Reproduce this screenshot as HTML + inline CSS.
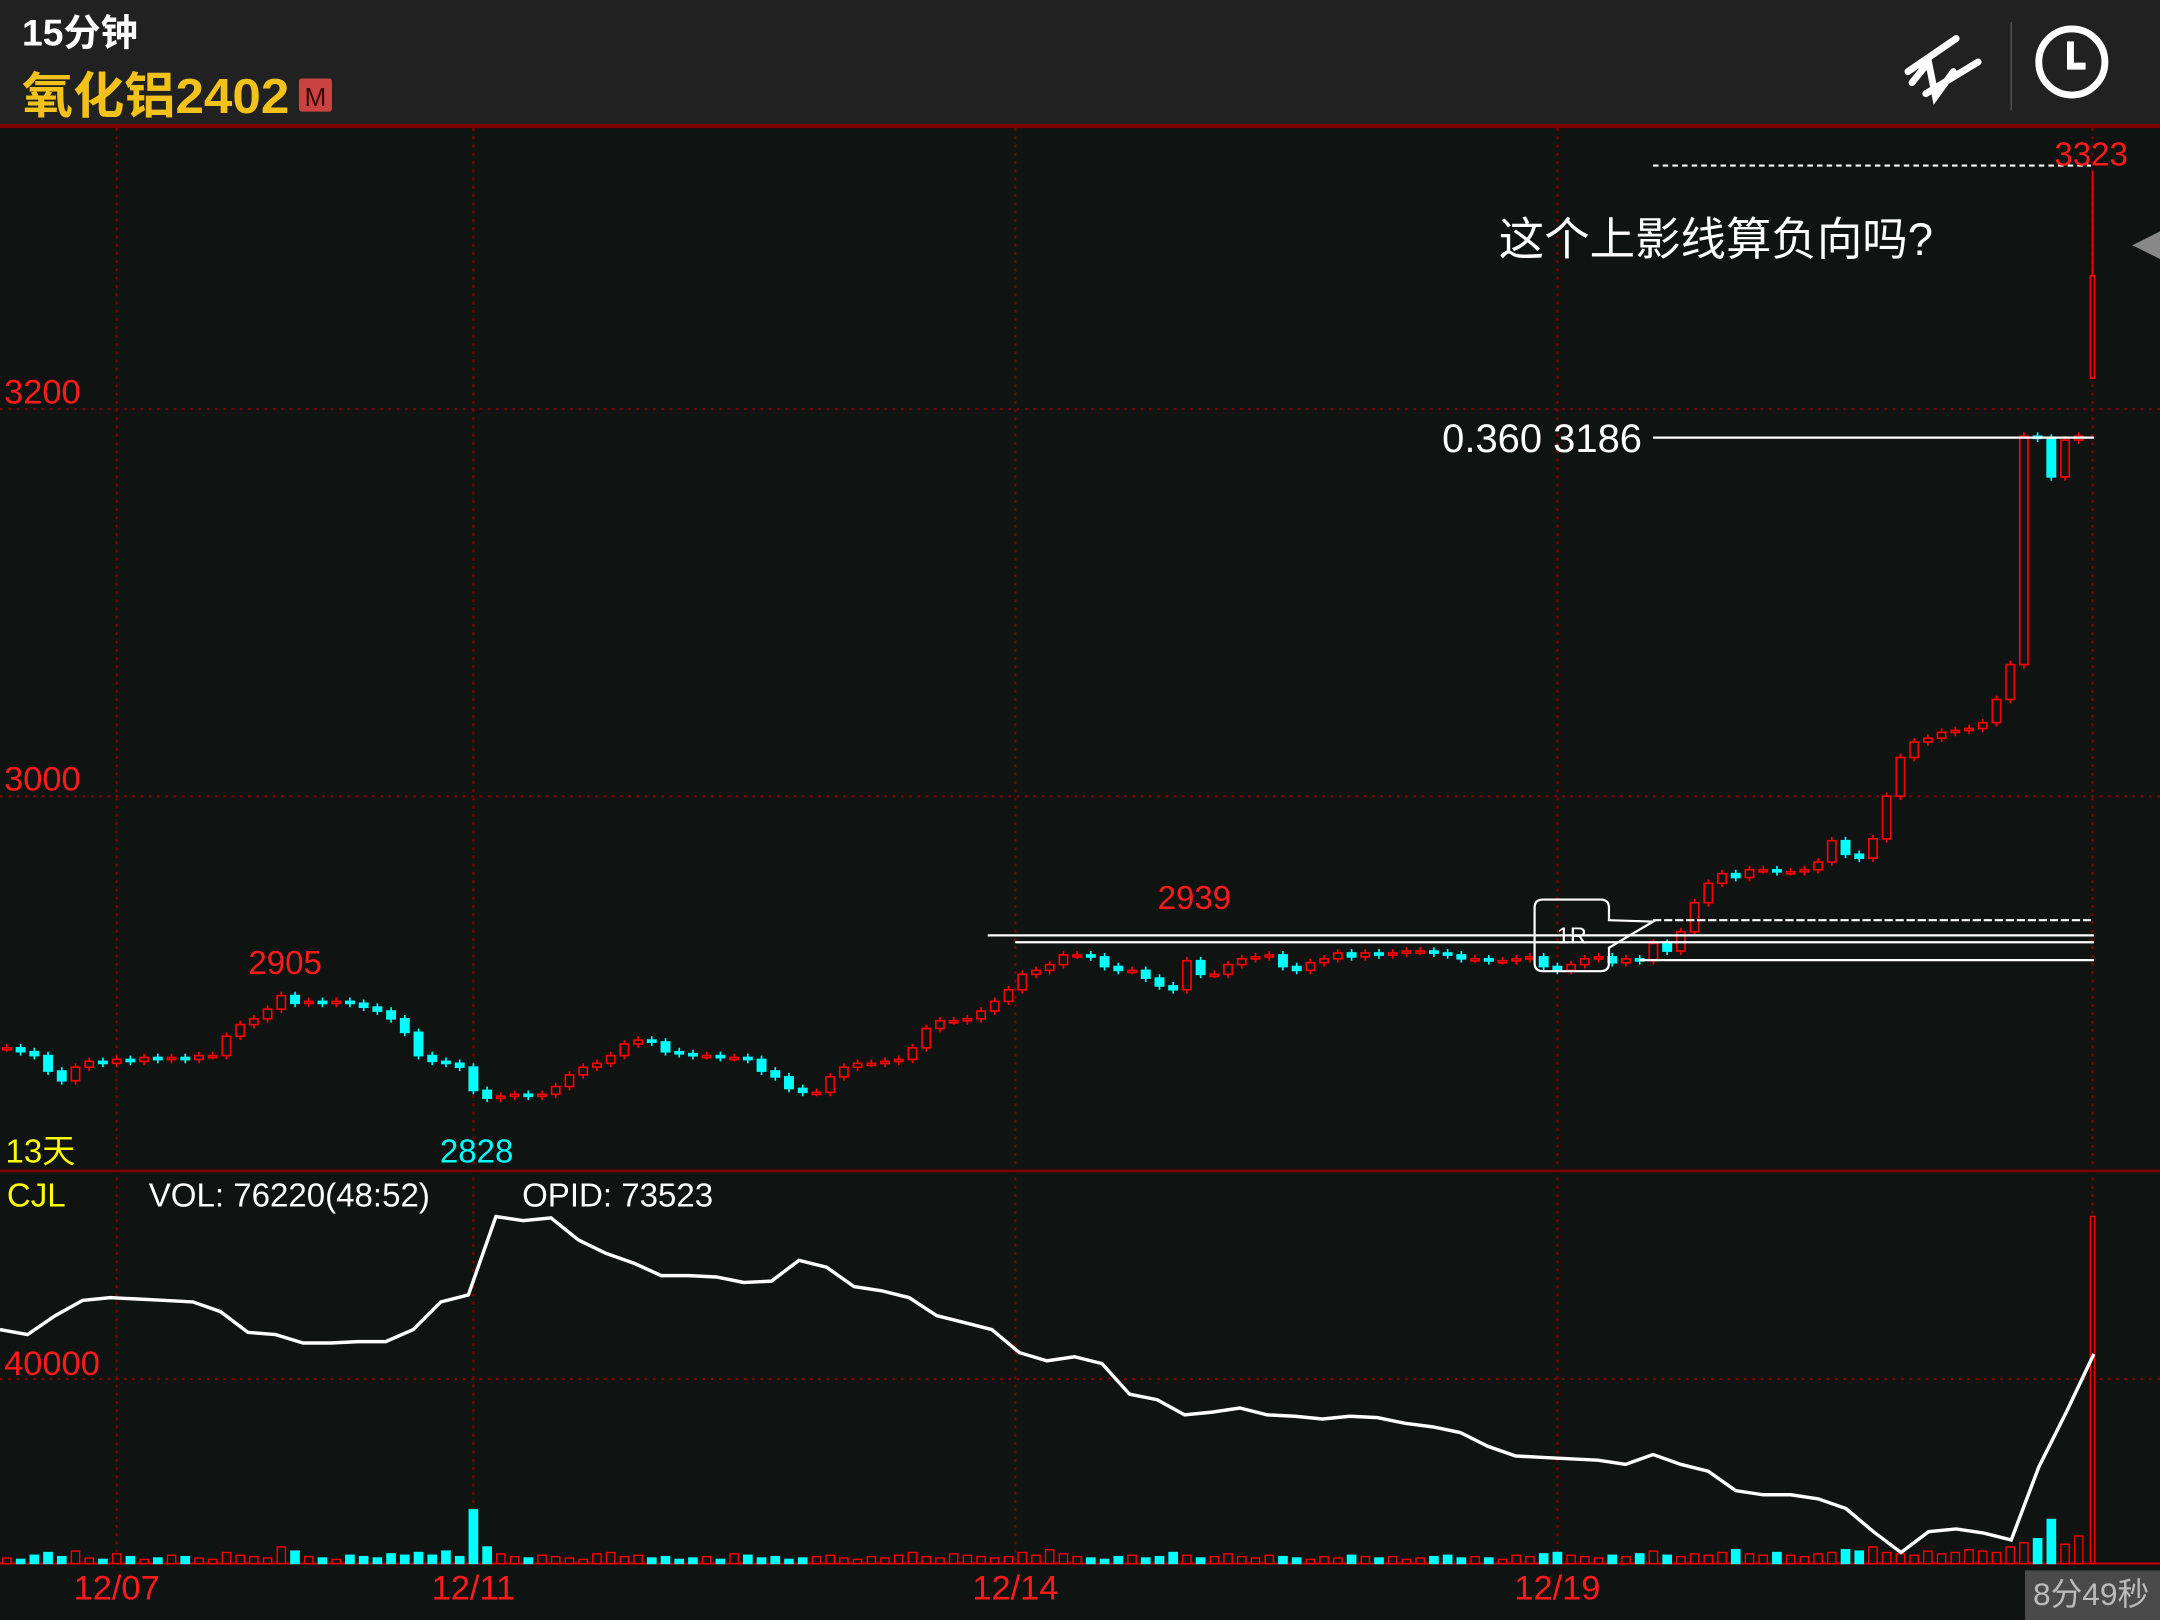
<!DOCTYPE html>
<html><head><meta charset="utf-8"><style>
html,body{margin:0;padding:0;background:#0f1311;}
svg{display:block;}
text{font-family:"Liberation Sans","Noto Sans CJK SC",sans-serif;}
</style></head><body>
<svg id="chart" width="2160" height="1620" viewBox="0 0 1568 1176" xmlns="http://www.w3.org/2000/svg">
<rect x="0" y="0" width="1568" height="1176" fill="#0f1311"/>
<rect x="0" y="0" width="1568" height="90" fill="#212121"/>
<rect x="0" y="90" width="1568" height="3" fill="#7a0000"/>
<text x="16" y="33" fill="#fff" font-size="27" font-weight="bold">15分钟</text>
<text x="16" y="82" fill="#f2c21b" font-size="36" font-weight="bold" textLength="194" lengthAdjust="spacingAndGlyphs">氧化铝2402</text>
<rect x="217" y="57" width="24" height="24" rx="2" fill="#c94343"/>
<text x="229" y="77" fill="#3a0a0a" font-size="19" text-anchor="middle">M</text>
<g stroke="#fff" stroke-width="5" fill="none" stroke-linecap="round">
<path d="M1385 52 L1420 28 M1388 60 L1400 45 L1405 70 L1418 52 M1398 68 L1436 45"/></g>
<line x1="1460" y1="16" x2="1460" y2="80" stroke="#555" stroke-width="1"/>
<g stroke="#fff" stroke-width="5" fill="none">
<circle cx="1504" cy="45" r="24"/><path d="M1503 30 L1503 48 L1514 48"/></g>
<g id="grid"></g>
<g id="vol"></g>
<g id="candles"></g>
<g id="anno"></g>
<g id="labels"></g>
</svg>
<script>
const NS="http://www.w3.org/2000/svg";
const closes=[2870,2868,2866,2858,2853,2860,2863,2862,2864,2863,2865,2864,2865,2864,2866,2866,2876,2882,2885,2890,2897,2893,2894,2893,2894,2893,2891,2889,2885,2878,2866,2863,2862,2860,2848,2844,2845,2846,2845,2846,2850,2856,2860,2862,2866,2872,2874,2873,2868,2867,2866,2866,2865,2865,2864,2858,2855,2849,2847,2847,2855,2860,2862,2862,2863,2864,2870,2880,2884,2884,2885,2889,2894,2900,2908,2910,2913,2918,2918,2917,2912,2910,2910,2906,2902,2900,2915,2908,2908,2913,2916,2917,2918,2912,2910,2914,2916,2919,2917,2919,2918,2919,2920,2920,2919,2918,2916,2916,2915,2915,2916,2917,2912,2910,2913,2916,2917,2914,2916,2915,2924,2920,2930,2945,2955,2960,2958,2962,2962,2961,2961,2962,2966,2977,2970,2968,2978,3000,3020,3028,3030,3033,3034,3035,3038,3050,3068,3186,3185,3165,3184,3186];
const lastBar=[3216,3323,3216,3269]; // open, high, low, close
const volumes=[4,3,6,8,5,9,4,3,7,5,3,4,6,5,4,3,8,6,5,4,12,9,5,4,3,6,5,4,7,6,8,6,9,5,39,12,7,5,4,6,5,4,3,7,8,5,6,4,5,3,4,5,3,7,6,4,5,3,4,5,6,4,3,5,4,6,8,5,4,7,6,5,4,5,8,6,10,7,5,4,3,5,6,4,5,8,6,4,5,7,5,4,6,5,4,3,5,4,6,5,4,5,3,4,5,6,4,5,4,3,6,5,7,8,6,5,4,6,5,7,9,6,5,7,6,8,10,7,6,8,6,5,7,8,10,9,12,8,7,6,9,7,8,10,9,8,12,15,18,32,14,20,252];
const opid=[50.7,49.6,53.7,57,57.6,57.3,57,56.7,54.6,50.1,49.6,47.8,47.8,48.1,48.1,50.7,56.7,58.2,75.2,74.3,74.9,70.1,67.2,65.1,62.4,62.4,62.1,60.9,61.2,65.7,64.2,60,59.1,57.6,53.7,52.2,50.7,45.7,43.9,44.8,43.3,36.7,35.5,32.2,32.8,33.7,32.2,31.9,31.3,31.9,31.6,30.4,29.6,28.4,25.4,23.3,23,22.7,22.4,21.5,23.6,21.5,20,15.8,14.9,14.9,14,11.9,6.9,2.4,6.9,7.5,6.6,5.1,20.9,32.8,45.4];
const priceTicks=[3200,3000];
const dateLabels=["12/07","12/11","12/14","12/19"];
const dateIdx=[8,34,73.5,113];

const N=closes.length+1;
const xC=i=>5+i*(1514/(N-1));
const yP=p=>578-(p-3000)*1.405;
const yV=v=>1135-v*1.0;
const yO=v=>1135-v*3.35;
const xO=i=>i*(1520/(opid.length-1));

function el(tag,attrs,parent){const e=document.createElementNS(NS,tag);for(const k in attrs)e.setAttribute(k,attrs[k]);parent.appendChild(e);return e;}
const grid=document.getElementById('grid'),vol=document.getElementById('vol'),cg=document.getElementById('candles'),anno=document.getElementById('anno'),lab=document.getElementById('labels');

priceTicks.forEach(p=>{const l=el('line',{x1:0,x2:1568,y1:yP(p),y2:yP(p),stroke:'#8a0000','stroke-width':1.5,'stroke-dasharray':'2 4'},grid);
});
const g4=el('line',{x1:0,x2:1568,y1:yO(40),y2:yO(40),stroke:'#8a0000','stroke-width':1.5,'stroke-dasharray':'2 4'},grid);

dateIdx.concat([N-1]).forEach(i=>{const x=xC(i);const l=el('line',{x1:x,x2:x,y1:93,y2:1135,stroke:'#8a0000','stroke-width':1.5,'stroke-dasharray':'2 4'},grid);
});
const sep=el('rect',{x:0,y:849,width:1568,height:2,fill:'#7a0000'},grid);

const base=el('line',{x1:0,x2:1568,y1:1135,y2:1135,stroke:'#c00',"stroke-width":1.5},grid);


const bw=6;
for(let i=0;i<N;i++){
  let o,h,l,c;
  if(i===N-1){[o,h,l,c]=lastBar;}
  else{c=closes[i];o=i>0?closes[i-1]:c;h=Math.max(o,c)+2;l=Math.min(o,c)-2;}
  const up=c>=o,x=xC(i),col=up?'#ff0000':'#00ffff';
  const w=el('line',{x1:x,x2:x,y1:yP(h),y2:yP(l),stroke:col,'stroke-width':1.2},cg);
  
  const top=yP(Math.max(o,c)),bh=Math.max(1.5,Math.abs(yP(o)-yP(c)));
  const bwi=i===N-1?3:bw;
  const b=el('rect',{x:x-bwi/2,y:top,width:bwi,height:bh,fill:up?'#0f1311':col,stroke:col,'stroke-width':1.2},cg);
  
  const v=volumes[i];
  const vwi=i===N-1?3:6;
  const vb=el('rect',{x:x-vwi/2,y:yV(v),width:vwi,height:1135-yV(v),fill:up?'#0f1311':'#00ffff',stroke:up?'#ff0000':'#00ffff','stroke-width':1},vol);
  
}
const pts=opid.map((v,i)=>xO(i).toFixed(1)+','+yO(v).toFixed(1)).join(' ');
const ol=el('polyline',{points:pts,fill:'none',stroke:'#fff','stroke-width':2.5},vol);


function ln(x1,y1,x2,y2,name,dash){const l=el('line',{x1,y1,x2,y2,stroke:'#fff','stroke-width':1.6},anno);if(dash)l.setAttribute('stroke-dasharray',dash);
}
ln(1200,yP(3323)-4,1518,yP(3323)-4,'high-marker-line','4 3');
ln(1200,yP(3186)+1,1520,yP(3186)+1,'level-3186-line');
ln(717,679,1520,679,'resistance-line-1');
ln(737,684,1520,684,'resistance-line-2');
ln(1200,668,1520,668,'breakout-line','6 2');
ln(1190,697,1520,697,'support-line');
const box=el('path',{d:'M1120 653 H1162 Q1168 653 1168 659 V668 L1200 669 L1168 688 V699 Q1168 705 1162 705 H1120 Q1114 705 1114 699 V659 Q1114 653 1120 653 Z',fill:'none',stroke:'#fff','stroke-width':1.6},anno);

const tri=el('path',{d:'M1548 178 L1568 168 L1568 188 Z',fill:'#888'},anno);


function tx(x,y,s,fill,size,name,anchor){const t=el('text',{x,y,fill,'font-size':size},lab);if(anchor)t.setAttribute('text-anchor',anchor);t.textContent=s;
return t;}
priceTicks.forEach(p=>tx(3,yP(p)-4,String(p),'#ff1a1a',25,'price-tick-label'));
tx(3,998,'40000','#ff1a1a',25,'opid-tick-label');
dateLabels.forEach((s,k)=>tx(xC(dateIdx[k]),1161,s,'#ff1a1a',25,'date-label','middle'));
tx(1518,120,'3323','#ff1a1a',24,'high-price-label','middle');
tx(1088,185,'这个上影线算负向吗?','#fff',33,'question-note');
tx(1192,328,'0.360 3186','#fff',29,'level-3186-label','end');
tx(1141,685,'1R','#fff',17,'callout-1r-text','middle');
tx(867,660,'2939','#ff1a1a',24,'peak-2939-label','middle');
tx(207,707,'2905','#ff1a1a',24,'peak-2905-label','middle');
tx(346,844,'2828','#00ffff',24,'low-2828-label','middle');
tx(4,844,'13天','#ffff00',24,'range-days-label');
tx(5,876,'CJL','#ffff00',24,'indicator-name');
tx(108,876,'VOL: 76220(48:52)','#fff',24,'volume-readout');
tx(379,876,'OPID: 73523','#fff',24,'opid-readout');
const tb=el('rect',{x:1470,y:1140,width:98,height:36,fill:'#4a4a4a'},lab);

tx(1518,1165,'8分49秒','#bbb',23,'countdown-timer','middle');
</script>
</body></html>
